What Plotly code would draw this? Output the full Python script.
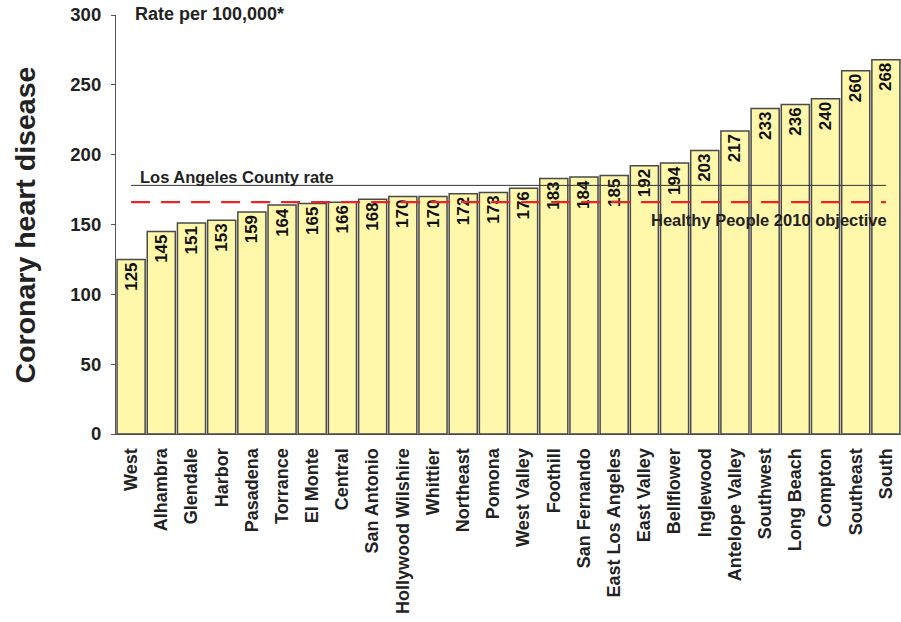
import plotly.graph_objects as go

categories = ["West", "Alhambra", "Glendale", "Harbor", "Pasadena", "Torrance", "El Monte",
              "Central", "San Antonio", "Hollywood Wilshire", "Whittier", "Northeast", "Pomona",
              "West Valley", "Foothill", "San Fernando", "East Los Angeles", "East Valley",
              "Bellflower", "Inglewood", "Antelope Valley", "Southwest", "Long Beach", "Compton",
              "Southeast", "South"]
rates = [125, 145, 151, 153, 159, 164, 165, 166, 168, 170, 170, 172, 173, 176, 183, 184, 185,
         192, 194, 203, 217, 233, 236, 240, 260, 268]
la_county_rate = 178
hp2010_objective = 166
y_ticks = [0, 50, 100, 150, 200, 250, 300]

FONT = "Liberation Sans, Arial, sans-serif"
TXT = "#222222"

fig = go.Figure()
fig.add_trace(go.Bar(
    x=categories, y=rates,
    marker=dict(color="#FFF7AA", line=dict(color="#4a4a4a", width=1.5)),
    text=[str(v) for v in rates], textposition="inside", insidetextanchor="end",
    textangle=-90, textfont=dict(family=FONT, size=17, color="#111111", weight="bold"),
    cliponaxis=False, hoverinfo="x+y",
))
fig.add_trace(go.Scatter(
    x=[categories[0], categories[-1]], y=[la_county_rate, la_county_rate],
    mode="lines", line=dict(color="#333333", width=1), hoverinfo="skip",
))
fig.add_trace(go.Scatter(
    x=[categories[0], categories[-1]], y=[hp2010_objective, hp2010_objective],
    mode="lines", line=dict(color="#E8262A", width=2.2, dash="19px,11px"), hoverinfo="skip",
))

fig.update_layout(
    width=901, height=622, showlegend=False,
    paper_bgcolor="white", plot_bgcolor="white",
    margin=dict(l=116, r=0, t=15, b=188),
    bargap=0.07,
    font=dict(family=FONT, color=TXT),
    uniformtext=dict(minsize=17, mode="show"),
)
fig.update_xaxes(
    range=[-0.5, len(categories) - 0.5], tickangle=-90, showgrid=False,
    showline=True, linecolor="#4a4a4a", linewidth=1, ticks="",
    tickfont=dict(family=FONT, size=18, color=TXT, weight="bold"),
    ticklabelstandoff=6,
)
fig.update_yaxes(
    range=[0, 300], tickvals=y_ticks, showgrid=False, zeroline=False,
    showline=True, linecolor="#555555", linewidth=1.2, ticks="outside", ticklen=4,
    tickcolor="#555555", ticklabelstandoff=6,
    tickfont=dict(family=FONT, size=18.5, color=TXT, weight="bold"),
)

fig.add_annotation(text="Coronary heart disease", xref="paper", yref="paper",
                   x=-0.116, y=0.5, xanchor="center", yanchor="middle", textangle=-90,
                   showarrow=False,
                   font=dict(family=FONT, size=28.5, color=TXT, weight="bold"))
fig.add_annotation(text="Rate per 100,000*", xref="paper", yref="paper",
                   x=0.0217, y=1.002, xanchor="left", yanchor="middle", showarrow=False,
                   font=dict(family=FONT, size=18, color=TXT, weight="bold"))
fig.add_annotation(text="Los Angeles County rate", xref="paper", yref="y",
                   x=0.028, y=la_county_rate, yshift=8, xanchor="left", yanchor="middle",
                   showarrow=False, font=dict(family=FONT, size=16.5, color=TXT, weight="bold"))
fig.add_annotation(text="Healthy People 2010 objective", xref="paper", yref="y",
                   x=0.985, y=hp2010_objective, yshift=-18, xanchor="right", yanchor="middle",
                   showarrow=False, font=dict(family=FONT, size=16.5, color=TXT, weight="bold"))

fig.write_html("out.html", config={"displayModeBar": False},
               post_script="document.body.style.margin='0';")
